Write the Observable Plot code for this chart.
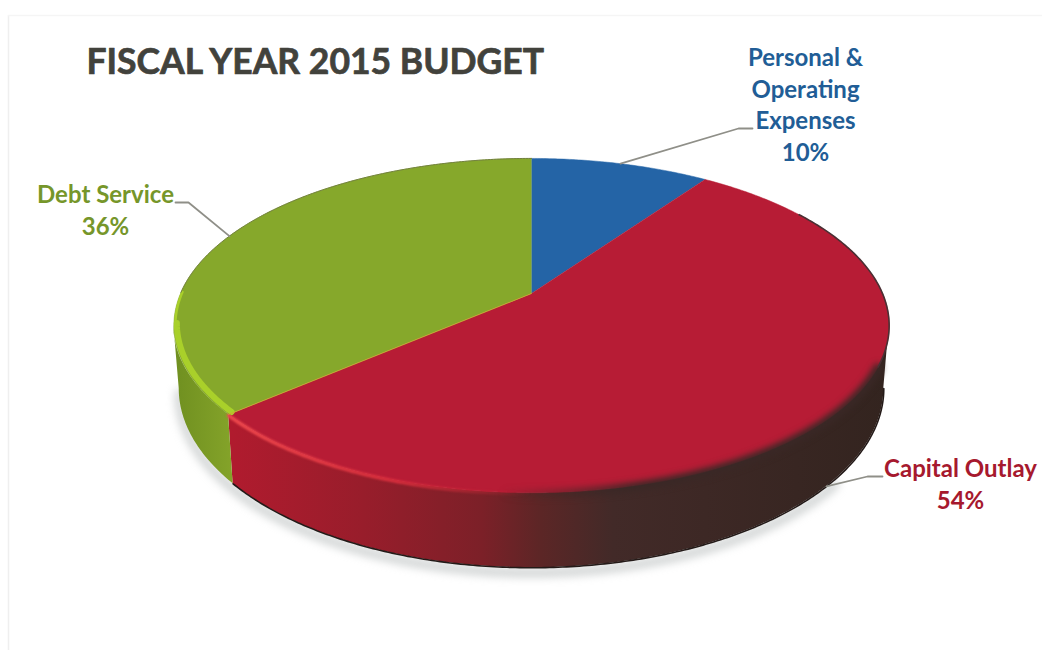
<!DOCTYPE html>
<html>
<head>
<meta charset="utf-8">
<script src="https://cdn.jsdelivr.net/npm/d3@7"></script>
<script src="https://cdn.jsdelivr.net/npm/@observablehq/plot@0.6"></script>
<style>
html,body{margin:0;padding:0;background:#fff}
svg{display:block}
</style>
</head>
<body>
<div id="chart"></div>
<script>
const categories = ["Personal & Operating Expenses", "Capital Outlay", "Debt Service"];
const shares = [9.7, 53.9, 36.4];
const labelLines = ["Personal &\nOperating\nExpenses\n10%", "Capital Outlay\n54%", "Debt Service\n36%"];
const titleText = "FISCAL YEAR 2015 BUDGET";

// Layout and styles
const W = 1042, H = 650;
const topColors = ["#2464a6", "#b71c35", "#86a82b"];
const textColors = ["#215d96", "#a6192e", "#76962a"];
const labelAt = [[805, 103], [960, 482.5], [105, 208.5]];
const elbowAt = [[752, 128], [867, 476], [188, 202]];
const leaderFraction = [0.5, 0.5, 0.485];
const cx = 531, cy = 293, R = 351, S = 161, k = 0.192, h = 60.6;

const arcs = d3.pie().sort(null).value(d => d)(shares);

function rim(a, level = 0) {
  const u = Math.sin(a), v = -Math.cos(a), d = 1 - k * v;
  const shrink = level ? 0.985 : 1;
  return {x: cx + shrink * R * u / d, y: cy + S * v / d + level * h / d};
}
const sweep = (a0, a1, level = 0) => {
  const n = Math.max(2, Math.ceil(Math.abs(a1 - a0) / 0.01));
  return d3.range(n + 1).map(i => rim(a0 + (a1 - a0) * i / n, level));
};
const band = (a0, a1) => {
  const t = sweep(a0, a1, 0), b = sweep(a0, a1, 1);
  return t.map((p, i) => ({x1: p.x, y1: p.y, x2: b[i].x, y2: b[i].y}));
};

const wallStart = Math.acos(-k);               // first visible wall angle on the right
const wallEnd = 2 * Math.PI - Math.acos(-k);   // last visible wall angle on the left
const redEnd = arcs[1].endAngle;
const apex = {x: cx, y: cy};

const faces = arcs.map((s, i) => ({
  fill: topColors[i],
  pts: [apex, ...sweep(s.startAngle, s.endAngle)]
}));

const along = (s, f) => s.startAngle + (s.endAngle - s.startAngle) * f;
const leaders = [
  [rim(along(arcs[0], leaderFraction[0])), {x: elbowAt[0][0] - 14, y: elbowAt[0][1]}, {x: elbowAt[0][0], y: elbowAt[0][1]}],
  [rim(along(arcs[1], leaderFraction[1]), 1), {x: elbowAt[1][0], y: elbowAt[1][1]}, {x: elbowAt[1][0] + 15, y: elbowAt[1][1]}],
  [rim(along(arcs[2], leaderFraction[2])), {x: elbowAt[2][0], y: elbowAt[2][1]}, {x: elbowAt[2][0] - 13, y: elbowAt[2][1]}]
];

const gradient = (defs, id, x1, x2, stops) => {
  const g = defs.append("linearGradient").attr("id", id).attr("gradientUnits", "userSpaceOnUse")
    .attr("x1", x1).attr("x2", x2).attr("y1", 0).attr("y2", 0);
  stops.forEach(([o, c, a = 1]) => g.append("stop").attr("offset", o).attr("stop-color", c).attr("stop-opacity", a));
};
const defsMark = () => {
  const svg = d3.create("svg:g");
  const defs = svg.append("defs");
  gradient(defs, "redWall", 232, 889, [[0, "#b01b2e"], [0.2, "#981d2b"], [0.38, "#7c2028"], [0.47, "#5c2626"], [0.58, "#422a28"], [1, "#33241f"]]);
  gradient(defs, "greenWall", 173, 237, [[0, "#6f8f20"], [1, "#86a52a"]]);
  gradient(defs, "darkRim", 500, 640, [[0, "#3a2826", 0], [1, "#3a2826", 1]]);
  gradient(defs, "brightRim", 232, 530, [[0, "#f04a4e", 1], [0.55, "#e0303f", 0.9], [1, "#d02a3a", 0]]);
  return svg.node();
};

const chart = Plot.plot({
  width: W, height: H,
  margin: 0,
  x: {domain: [0, W], range: [0, W], axis: null},
  y: {domain: [0, H], range: [0, H], axis: null},
  style: {background: "#fff"},
  marks: [
    defsMark,
    // scanned page edge
    Plot.ruleX([8], {y1: 15, y2: H, stroke: "#efefef", strokeWidth: 1.5}),
    Plot.ruleY([15], {x1: 8, x2: W, stroke: "#f5f5f5", strokeWidth: 1.5}),
    // soft shadow under the disc
    Plot.line(sweep(wallStart + 0.5, wallEnd, 1), {
      x: "x", y: d => d.y + 5, stroke: "#a4a9a9", strokeWidth: 9, strokeOpacity: 0.5, imageFilter: "blur(4px)"
    }),
    // side walls
    Plot.area(band(wallStart, redEnd), {x1: "x1", y1: "y1", x2: "x2", y2: "y2", fill: "url(#redWall)"}),
    Plot.area(band(redEnd, wallEnd), {x1: "x1", y1: "y1", x2: "x2", y2: "y2", fill: "url(#greenWall)"}),
    Plot.line(sweep(wallStart, redEnd, 1), {x: "x", y: "y", stroke: "#241a18", strokeWidth: 1.6}),
    // top faces
    ...faces.map(f => Plot.line(f.pts, {x: "x", y: "y", fill: f.fill, stroke: f.fill, strokeWidth: 0.5})),
    // rim shading
    Plot.line(sweep(wallStart + 0.24, redEnd, 0), {x: "x", y: d => d.y + 1, stroke: "url(#darkRim)", strokeWidth: 9, imageFilter: "blur(3px)"}),
    Plot.line(sweep(1.0, wallStart + 0.24, 0), {x: "x", y: "y", stroke: "#4a3034", strokeWidth: 1.6}),
    Plot.line(sweep(redEnd, 2.9, 0), {x: "x", y: d => d.y + 1, stroke: "url(#brightRim)", strokeWidth: 3.5, imageFilter: "blur(1px)"}),
    Plot.line(sweep(redEnd, wallEnd, 0), {x: d => d.x + 3, y: d => d.y - 2.5, stroke: "#a9d02a", strokeWidth: 6, imageFilter: "blur(0.6px)"}),
    Plot.line(sweep(wallEnd - 0.02, wallEnd + 0.2, 0), {x: d => d.x + 1.5, y: d => d.y - 0.5, stroke: "#a9d02a", strokeWidth: 2.5, imageFilter: "blur(0.6px)"}),
    Plot.line(sweep(wallEnd + 0.2, 2 * Math.PI, 0), {x: "x", y: "y", stroke: "#72803e", strokeWidth: 1}),
    Plot.line([apex, rim(redEnd)], {x: "x", y: "y", stroke: "#d8a030", strokeWidth: 1, strokeOpacity: 0.7}),
    // leaders
    ...leaders.map(l => Plot.line(l, {x: "x", y: "y", stroke: "#8f8f88", strokeWidth: 1.8})),
    // text
    Plot.text([titleText], {
      x: () => 86, y: () => 62, text: d => d, textAnchor: "start", fontFamily: "Lato", fontWeight: 700,
      fontSize: 35.5, fill: "#42423c", stroke: "#42423c", strokeWidth: 0.7
    }),
    ...labelLines.map((t, i) => Plot.text([t], {
      x: () => labelAt[i][0], y: () => labelAt[i][1], text: d => d, lineAnchor: "middle", lineHeight: 1.315,
      textAnchor: "middle", fontFamily: "Lato", fontWeight: 700, fontSize: 24, fill: textColors[i]
    }))
  ]
});
document.getElementById("chart").append(chart);
</script>
</body>
</html>
